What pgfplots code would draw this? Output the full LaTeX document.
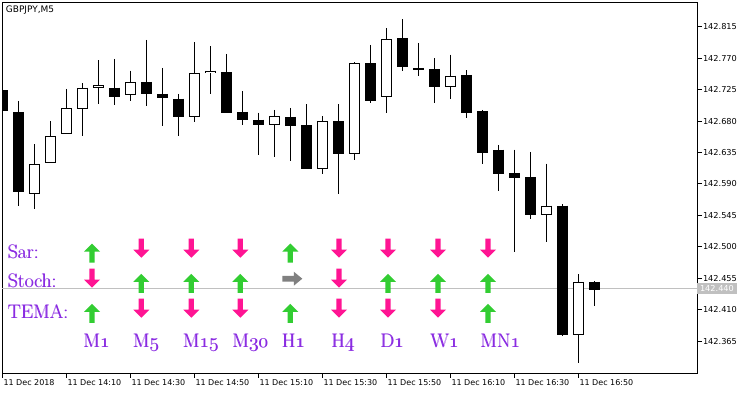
\documentclass[border=0pt]{standalone}
\usepackage{fix-cm}
\usepackage{pgfplots}
\pgfplotsset{compat=1.18}
\usepackage{pgfplotstable}
\usepackage{fontspec}
\newfontfamily\tahoma{DejaVu Sans}
\definecolor{lbl}{RGB}{138,43,226}
\definecolor{upg}{RGB}{50,205,50}
\definecolor{dnp}{RGB}{255,20,147}
\definecolor{nt}{RGB}{128,128,128}
\definecolor{pl}{RGB}{192,192,192}
\newcommand\osn[1]{{\usefont{OML}{cmm}{m}{it}#1}}
\newcommand\hv[1]{\rlap{#1}\hbox{\kern0.55pt#1}}

\pgfdeclareplotmark{uparr}{%
 \pgfpathmoveto{\pgfpoint{0pt}{9.5pt}}%
 \pgfpathlineto{\pgfpoint{8pt}{1.5pt}}%
 \pgfpathlineto{\pgfpoint{2.6pt}{1.5pt}}%
 \pgfpathlineto{\pgfpoint{2.6pt}{-9.5pt}}%
 \pgfpathlineto{\pgfpoint{-2.6pt}{-9.5pt}}%
 \pgfpathlineto{\pgfpoint{-2.6pt}{1.5pt}}%
 \pgfpathlineto{\pgfpoint{-8pt}{1.5pt}}%
 \pgfpathclose\pgfusepathqfill}
\pgfdeclareplotmark{dnarr}{%
 \pgfpathmoveto{\pgfpoint{0pt}{-9.5pt}}%
 \pgfpathlineto{\pgfpoint{8pt}{-1.5pt}}%
 \pgfpathlineto{\pgfpoint{2.6pt}{-1.5pt}}%
 \pgfpathlineto{\pgfpoint{2.6pt}{9.5pt}}%
 \pgfpathlineto{\pgfpoint{-2.6pt}{9.5pt}}%
 \pgfpathlineto{\pgfpoint{-2.6pt}{-1.5pt}}%
 \pgfpathlineto{\pgfpoint{-8pt}{-1.5pt}}%
 \pgfpathclose\pgfusepathqfill}
\pgfdeclareplotmark{rtarr}{%
 \pgfpathmoveto{\pgfpoint{10pt}{0pt}}%
 \pgfpathlineto{\pgfpoint{1.5pt}{7pt}}%
 \pgfpathlineto{\pgfpoint{1.5pt}{2.8pt}}%
 \pgfpathlineto{\pgfpoint{-10pt}{2.8pt}}%
 \pgfpathlineto{\pgfpoint{-10pt}{-2.8pt}}%
 \pgfpathlineto{\pgfpoint{1.5pt}{-2.8pt}}%
 \pgfpathlineto{\pgfpoint{1.5pt}{-7pt}}%
 \pgfpathclose\pgfusepathqfill}

% bearish candles: index open high low close
\pgfplotstableread{
k o h l c
0 142.724 142.724 142.695 142.695
1 142.693 142.709 142.559 142.579
7 142.728 142.769 142.703 142.715
9 142.736 142.796 142.701 142.719
10 142.719 142.756 142.673 142.713
11 142.712 142.719 142.658 142.686
14 142.750 142.776 142.691 142.692
15 142.693 142.723 142.675 142.681
16 142.682 142.692 142.632 142.675
18 142.686 142.699 142.623 142.673
19 142.674 142.704 142.612 142.612
21 142.680 142.704 142.575 142.633
23 142.763 142.789 142.706 142.709
25 142.799 142.826 142.751 142.758
26 142.756 142.792 142.745 142.753
27 142.754 142.770 142.706 142.729
29 142.746 142.753 142.685 142.692
30 142.694 142.696 142.618 142.635
31 142.639 142.646 142.580 142.605
32 142.606 142.639 142.492 142.599
33 142.600 142.636 142.540 142.545
35 142.559 142.561 142.373 142.374
37 142.450 142.451 142.415 142.439
}\bear
% bullish candles
\pgfplotstableread{
k o h l c
2 142.575 142.647 142.554 142.618
3 142.620 142.680 142.620 142.658
4 142.661 142.726 142.661 142.698
5 142.697 142.734 142.659 142.728
6 142.728 142.767 142.705 142.731
8 142.717 142.752 142.708 142.736
12 142.686 142.793 142.678 142.749
13 142.749 142.787 142.718 142.752
17 142.675 142.696 142.629 142.687
20 142.611 142.687 142.605 142.680
22 142.633 142.764 142.625 142.763
24 142.714 142.813 142.691 142.797
28 142.729 142.775 142.712 142.745
34 142.545 142.619 142.507 142.559
36 142.374 142.461 142.334 142.450
}\bull

\begin{document}
\begin{tikzpicture}[x=1pt,y=1pt]
\useasboundingbox (0,0) rectangle (750,394);
\fill[white] (0,0) rectangle (750,394);
\begin{axis}[
  at={(2.3pt,21pt)}, anchor=south west, scale only axis,
  width=695pt, height=370.3pt,
  xmin=0, xmax=43.4375, ymin=142.31965, ymax=142.84933,
  axis line style={line width=1pt, black},
  tick style={line width=1pt, black},
  tick align=outside, major tick length=4.5pt,
  xtick pos=bottom, ytick pos=right, yticklabel pos=right,
  xtick={0,4,8,12,16,20,24,28,32,36},
  xticklabels={11 Dec 2018,11 Dec 14:10,11 Dec 14:30,11 Dec 14:50,11 Dec 15:10,11 Dec 15:30,11 Dec 15:50,11 Dec 16:10,11 Dec 16:30,11 Dec 16:50},
  ytick={142.365,142.41,142.455,142.5,142.545,142.59,142.635,142.68,142.725,142.77,142.815},
  scaled y ticks=false,
  /pgf/number format/fixed, /pgf/number format/fixed zerofill,
  /pgf/number format/precision=3, /pgf/number format/assume math mode=true,
  xticklabel style={font=\tahoma\fontsize{8}{9}\selectfont, anchor=north west, inner sep=0pt, xshift=1pt, yshift=-2pt},
  yticklabel style={font=\tahoma\fontsize{8.2}{9}\selectfont, anchor=west, inner sep=0pt, xshift=1pt},
  extra y ticks={142.44},
  extra y tick style={grid=major, major grid style={draw=pl, line width=1pt}, major tick length=0pt,
     yticklabel style={fill=pl, text=white, inner xsep=3pt, inner ysep=2.5pt, xshift=-1.5pt}},
  candle/.style={draw=none, mark=none, forget plot, error bars/.cd, y dir=minus, y explicit, error mark=none},
]
% wicks
\addplot [candle, error bar style={draw=black, line width=1pt}]
  table [x=k, y=h, y error expr=\thisrow{h}-\thisrow{l}] {\bear};
\addplot [candle, error bar style={draw=black, line width=1pt}]
  table [x=k, y=h, y error expr=\thisrow{h}-\thisrow{l}] {\bull};
% bearish bodies
\addplot [candle, error bar style={draw=black, line width=11pt}]
  table [x=k, y=o, y error expr=\thisrow{o}-\thisrow{c}] {\bear};
% bullish bodies
\addplot [candle, error bar style={draw=black, line width=11pt}]
  table [x=k, y=c, y error expr=\thisrow{c}-\thisrow{o}] {\bull};
\addplot [candle, error bar style={draw=white, line width=9pt}]
  table [x=k, y expr=\thisrow{c}-0.00143, y error expr=\thisrow{c}-\thisrow{o}-0.00286] {\bull};
\end{axis}

\begin{axis}[
  at={(0pt,0pt)}, anchor=south west, scale only axis,
  width=750pt, height=394pt, xmin=0, xmax=750, ymin=0, ymax=394,
  y dir=reverse, hide axis, clip=false,
]
\addplot [only marks, mark=uparr, color=upg] coordinates {
 (92,253) (290.3,253)
 (141.3,283.3) (191.3,283.3) (240.3,283.3) (388,283.3) (438,283.3) (488,283.3)
 (92,313.3) (290.3,313.3) (488,313.3)};
\addplot [only marks, mark=dnarr, color=dnp] coordinates {
 (141.3,248.2) (191.3,248.2) (240.3,248.2) (339,248.2) (388,248.2) (438,248.2) (488,248.2)
 (92,278.2) (339,278.2)
 (141.3,308.2) (191.3,308.2) (240.3,308.2) (339,308.2) (388,308.2) (438,308.2)};
\addplot [only marks, mark=rtarr, color=nt] coordinates {(292.3,278.7)};
\node[anchor=base west, inner sep=0pt, font=\tahoma\fontsize{9}{10}\selectfont] at (axis cs:5.7,12.3) {GBPJPY,M5};
\begin{scope}[every node/.style={anchor=base west, inner sep=0pt, text=lbl, font=\fontsize{19.5}{21}\selectfont}]
\node at (axis cs:7.5,258.3) {\hv{Sar:}};
\node at (axis cs:7.5,287.7) {\hv{Stoch:}};
\node at (axis cs:7.5,318.3) {\hv{TEMA:}};
\node at (axis cs:83,347.7) {\hv{M\osn{1}}};
\node at (axis cs:132.5,347.7) {\hv{M\osn{5}}};
\node at (axis cs:182.5,347.7) {\hv{M\osn{15}}};
\node at (axis cs:232,347.7) {\hv{M\osn{30}}};
\node at (axis cs:281.5,347.7) {\hv{H\osn{1}}};
\node at (axis cs:331,347.7) {\hv{H\osn{4}}};
\node at (axis cs:380,347.7) {\hv{D\osn{1}}};
\node at (axis cs:430,347.7) {\hv{W\osn{1}}};
\node at (axis cs:480,347.7) {\hv{MN\osn{1}}};
\end{scope}
\end{axis}
\end{tikzpicture}
\end{document}
